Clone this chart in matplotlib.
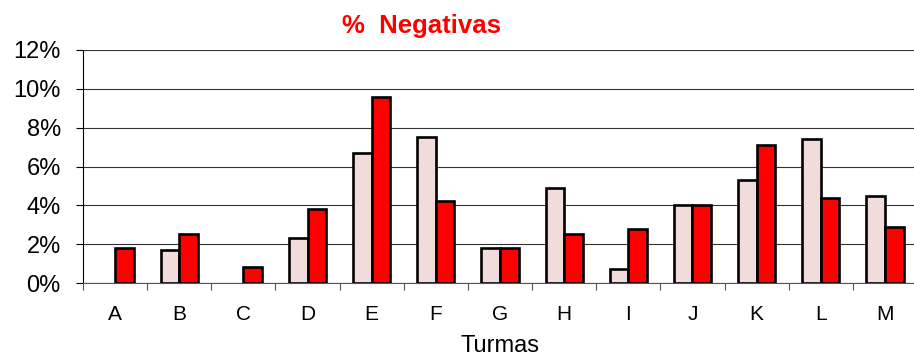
import numpy as np
import matplotlib
matplotlib.use('Agg')
from matplotlib import pyplot as plt
from matplotlib.ticker import FuncFormatter, FixedLocator

plt.rcParams['font.family'] = ['Liberation Sans', 'DejaVu Sans']

turmas = ['A', 'B', 'C', 'D', 'E', 'F', 'G', 'H', 'I', 'J', 'K', 'L', 'M']
# percentages for the two series (light pink first, red second)
serie_1 = [0.0, 1.7, 0.0, 2.3, 6.7, 7.5, 1.8, 4.9, 0.7, 4.0, 5.3, 7.4, 4.5]
serie_2 = [1.8, 2.5, 0.8, 3.8, 9.6, 4.2, 1.8, 2.5, 2.8, 4.0, 7.1, 4.4, 2.9]
y_ticks = [0, 2, 4, 6, 8, 10, 12]

fig = plt.figure(figsize=(9.14, 3.6), dpi=100)
ax = fig.add_axes([83 / 914, 1 - 283 / 360, 834 / 914, 233 / 360])

x = np.arange(len(turmas))
w = 0.29
for xi, v in zip(x, serie_1):
    if v > 0:
        ax.bar(xi - w / 2, v, width=w, color='#F2DCDB', edgecolor='black', linewidth=1.9, zorder=3)
for xi, v in zip(x, serie_2):
    if v > 0:
        ax.bar(xi + w / 2, v, width=w, color='#FF0000', edgecolor='black', linewidth=1.9, zorder=3)

ax.set_xlim(-0.5, len(turmas) - 0.5)
ax.set_ylim(0, 12)
ax.set_yticks(y_ticks)
ax.yaxis.set_major_formatter(FuncFormatter(lambda v, p: '%d%%' % v))
ax.yaxis.grid(True, color='#333333', linewidth=0.8, zorder=0)
ax.tick_params(axis='y', length=5, width=0.8, labelsize=17, pad=11)

ax.set_xticks(x)
ax.set_xticklabels(turmas)
ax.xaxis.set_minor_locator(FixedLocator(np.arange(-0.5, len(turmas), 1.0)))
ax.tick_params(axis='x', which='major', length=0, labelsize=15, pad=16)
ax.tick_params(axis='x', which='minor', length=5, width=0.8, color='#555555')

for s in ['top', 'right']:
    ax.spines[s].set_visible(False)
ax.spines['left'].set_color('black')
ax.spines['left'].set_linewidth(0.8)
ax.spines['bottom'].set_color('#555555')
ax.spines['bottom'].set_linewidth(0.8)

ax.set_xlabel('Turmas', fontsize=17, labelpad=8)
fig.text(421 / 914, 1 - 26 / 360, '%  Negativas', color='#FF0000', fontsize=18.5,
         fontweight='bold', ha='center', va='center')

fig.savefig('out.png', dpi=100)
